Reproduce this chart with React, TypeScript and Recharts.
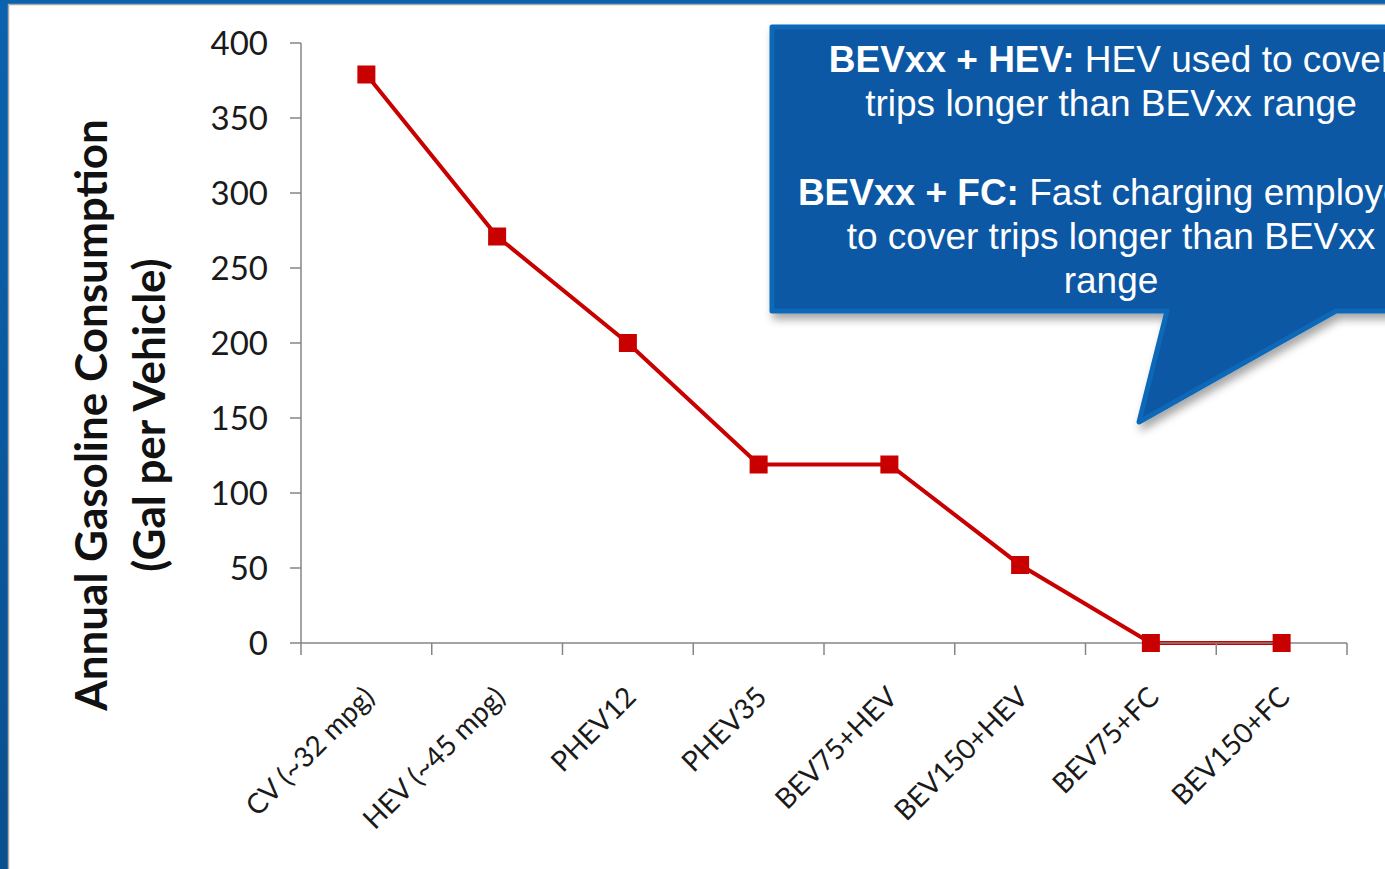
import { LineChart, Line, XAxis, YAxis } from 'recharts';

const vehicles = [
  'CV (~32 mpg)',
  'HEV (~45 mpg)',
  'PHEV12',
  'PHEV35',
  'BEV75+HEV',
  'BEV150+HEV',
  'BEV75+FC',
  'BEV150+FC',
];
const gallons = [379, 271, 200, 119, 119, 52, 0, 0];
const yTicks = [0, 50, 100, 150, 200, 250, 300, 350, 400];

const titleLines = ['Annual Gasoline Consumption', '(Gal per Vehicle)'];
const calloutLines: { bold: string; rest: string }[] = [
  { bold: 'BEVxx + HEV:', rest: ' HEV used to cover' },
  { bold: '', rest: 'trips longer than BEVxx range' },
  { bold: '', rest: '' },
  { bold: 'BEVxx + FC:', rest: ' Fast charging employed' },
  { bold: '', rest: 'to cover trips longer than BEVxx' },
  { bold: '', rest: 'range' },
];

const data = vehicles.map((name, i) => ({ name, gal: gallons[i] }));

const W = 1385;
const H = 869;
const PLOT_LEFT = 301;
const PLOT_RIGHT = 1347;
const PLOT_TOP = 43;
const PLOT_BOTTOM = 643;
const BAND = (PLOT_RIGHT - PLOT_LEFT) / vehicles.length;

const AXIS = '#868686';
const RED = '#C80000';
const FONT = 'Lato, "Open Sans", sans-serif';

function CategoryTick(props: any) {
  const { x, y, payload, index } = props;
  return (
    <g>
      <line x1={x - BAND / 2} y1={y} x2={x - BAND / 2} y2={y + 12} stroke={AXIS} strokeWidth={1.5} />
      {index === vehicles.length - 1 && (
        <line x1={x + BAND / 2} y1={y} x2={x + BAND / 2} y2={y + 12} stroke={AXIS} strokeWidth={1.5} />
      )}
      <text
        transform={`translate(${x + 2},${y + 48}) rotate(-45)`}
        textAnchor="end"
        dominantBaseline="central"
        fontSize={28}
        fontFamily={FONT}
        fill="#1a1a1a"
      >
        {payload.value}
      </text>
    </g>
  );
}

function SquareDot(props: any) {
  const { cx, cy, index } = props;
  return <rect key={`sq-${index}`} x={cx - 9} y={cy - 9} width={18} height={18} fill={RED} />;
}

export default function App() {
  return (
    <div style={{ position: 'absolute', left: 0, top: 0, width: W, height: H, background: '#fff' }}>
      <LineChart
        width={W}
        height={H}
        data={data}
        margin={{ top: PLOT_TOP, right: W - PLOT_RIGHT, bottom: 0, left: 0 }}
      >
        <XAxis
          dataKey="name"
          scale="band"
          interval={0}
          height={H - PLOT_BOTTOM}
          tickLine={false}
          tickSize={0}
          tickMargin={0}
          axisLine={{ stroke: AXIS, strokeWidth: 1.5 }}
          tick={<CategoryTick />}
        />
        <YAxis
          domain={[0, 400]}
          ticks={yTicks}
          width={PLOT_LEFT}
          tickSize={11}
          tickMargin={22}
          axisLine={{ stroke: AXIS, strokeWidth: 1.5 }}
          tickLine={{ stroke: AXIS, strokeWidth: 1.5 }}
          tick={{ fontSize: 33, fill: '#1a1a1a', fontFamily: FONT }}
        />
        <Line
          type="linear"
          dataKey="gal"
          stroke={RED}
          strokeWidth={4}
          dot={<SquareDot />}
          activeDot={false}
          isAnimationActive={false}
        />
      </LineChart>

      <svg
        width={W}
        height={H}
        style={{ position: 'absolute', left: 0, top: 0, pointerEvents: 'none' }}
      >
        <defs>
          <linearGradient id="frameLeft" x1="0" y1="0" x2="0" y2="1">
            <stop offset="0" stopColor="#0B62AE" />
            <stop offset="1" stopColor="#0A4F8E" />
          </linearGradient>
          <filter id="shadow" x="-10%" y="-10%" width="130%" height="140%">
            <feDropShadow dx="3" dy="6" stdDeviation="4" floodColor="#000" floodOpacity="0.35" />
          </filter>
        </defs>

        {/* slide frame */}
        <rect x={0} y={0} width={W} height={4} fill="#0B62AE" />
        <rect x={0} y={0} width={8} height={H} fill="url(#frameLeft)" />
        <line x1={8.5} y1={4.5} x2={W} y2={4.5} stroke="#A8A8A8" strokeWidth={1.5} />
        <line x1={8.5} y1={4.5} x2={8.5} y2={H} stroke="#A8A8A8" strokeWidth={1.5} />

        {/* axis title */}
        {titleLines.map((t, i) => (
          <text
            key={t}
            transform={`translate(${90 + i * 58},415) rotate(-90)`}
            textAnchor="middle"
            dominantBaseline="central"
            fontSize={44}
            fontWeight={700}
            fontFamily={FONT}
            fill="#111"
          >
            {t}
          </text>
        ))}

        {/* callout */}
        <path
          d="M772,27 H1470 V311 H1336 L1139,422 L1167,311 H772 Z"
          fill="#0A58A5"
          stroke="#0867B8"
          strokeWidth={5}
          strokeLinejoin="round"
          filter="url(#shadow)"
        />
        {calloutLines.map((ln, i) => (
          <text
            key={i}
            x={1111}
            y={72 + i * 44.2}
            textAnchor="middle"
            fontSize={37}
            fontFamily='"Liberation Sans", Arial, sans-serif'
            fill="#fff"
          >
            {ln.bold && <tspan fontWeight={700}>{ln.bold}</tspan>}
            <tspan>{ln.rest}</tspan>
          </text>
        ))}
      </svg>
    </div>
  );
}
